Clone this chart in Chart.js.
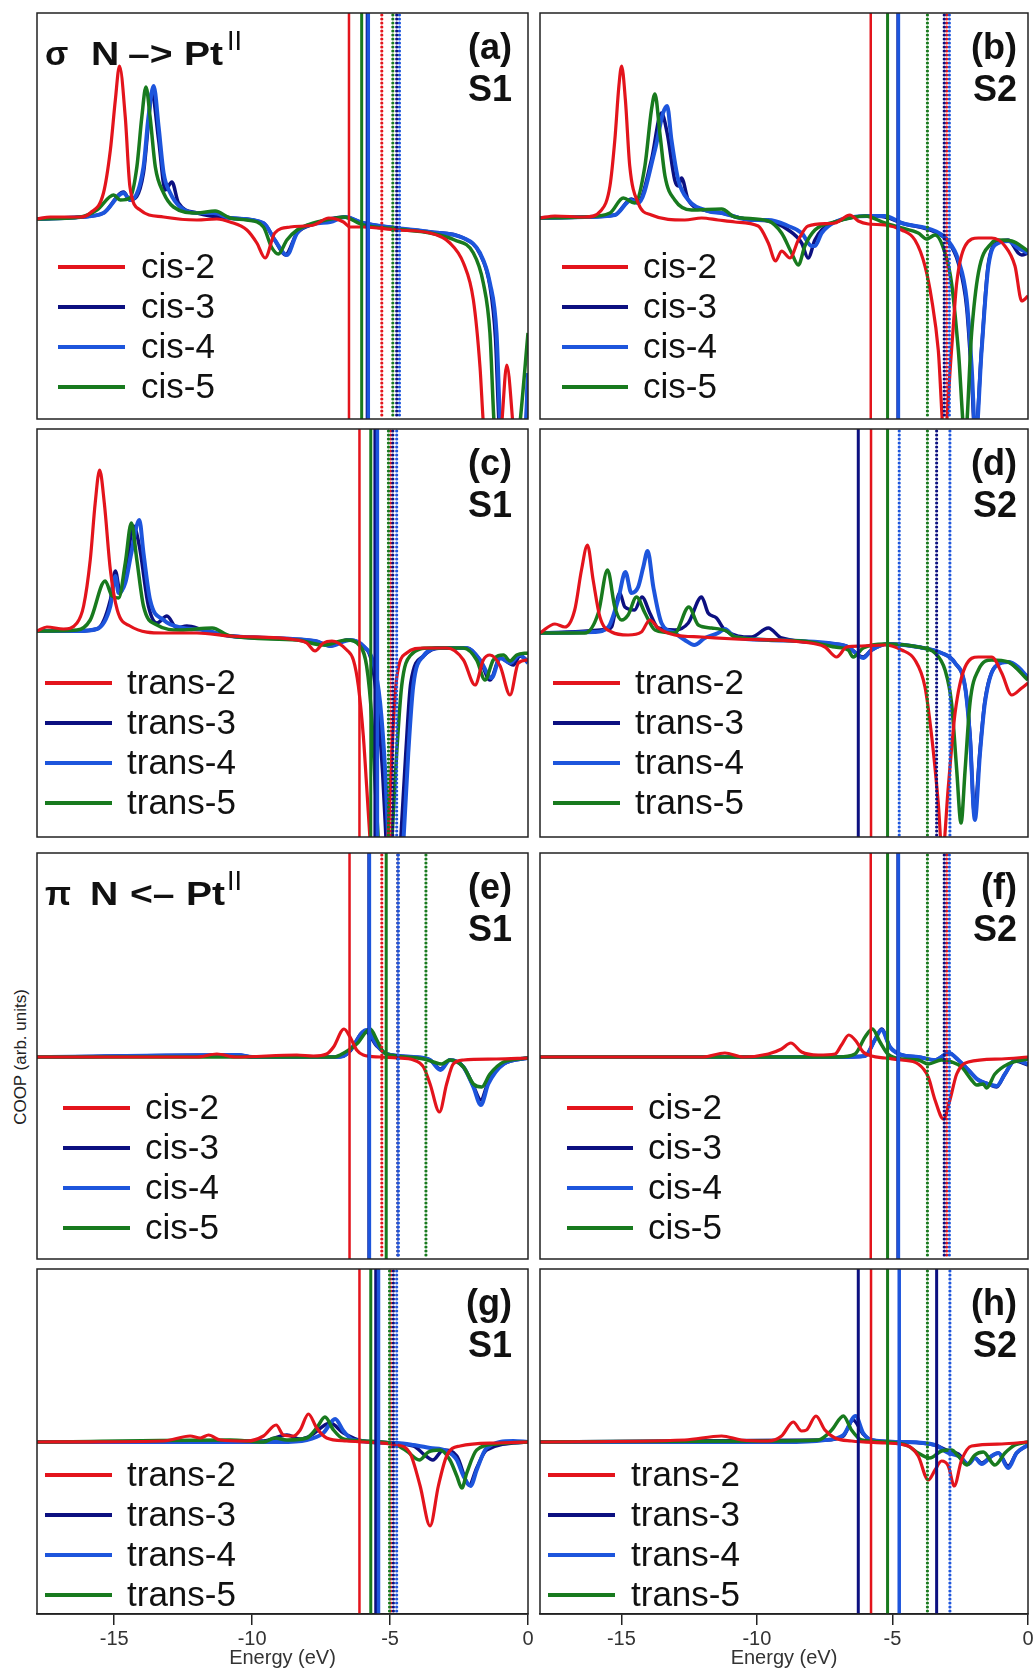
<!DOCTYPE html>
<html>
<head>
<meta charset="utf-8">
<title>COOP N–Pt</title>
<script src="https://cdn.jsdelivr.net/npm/chart.js@4.4.1/dist/chart.umd.min.js"></script>
<style>
    body { margin: 0; background: #fff; }
    #fig { position: relative; width: 1033px; height: 1670px; overflow: hidden; background: #fff; }
    #fig canvas { position: absolute; }
    #ylab {
        position: absolute; left: 21px; top: 1057px;
        transform: translate(-50%, -50%) rotate(-90deg);
        white-space: nowrap; font: 17px 'Liberation Sans', Arial, sans-serif; color: #222;
    }
</style>
</head>
<body>
<div id="fig"><div id="ylab">COOP (arb. units)</div></div>
<script>
// Подписи серий и оси
const cisNames = ['cis-2', 'cis-3', 'cis-4', 'cis-5'];
const transNames = ['trans-2', 'trans-3', 'trans-4', 'trans-5'];
const energyTicks = [-15, -10, -5, 0];

// (a) sigma, cis, S1 : [энергия, COOP]
const aCis2 = [[-17.8,-0.01],[-17.32,0.01],[-16.23,0.01],[-15.87,0.05],[-15.39,0.25],[-15.14,0.68],[-14.96,1.18],[-14.81,1.52],[-14.6,1.01],[-14.43,0.31],[-14.06,0.08],[-13.21,0.01],[-12.0,-0.02],[-11.28,-0.01],[-10.8,-0.04],[-10.19,-0.12],[-9.83,-0.25],[-9.53,-0.4],[-9.18,-0.15],[-8.62,-0.09],[-7.77,-0.07],[-7.22,0.0],[-6.69,-0.04],[-6.45,-0.09],[-5.97,-0.09],[-4.78,-0.12],[-3.55,-0.15],[-2.83,-0.25],[-2.34,-0.45],[-1.98,-0.82],[-1.74,-1.49],[-1.62,-2.05],[-1.3,-3.0],[-0.95,-2.05],[-0.77,-1.47],[-0.55,-2.05],[-0.3,-3.0],[0,-3.2]];
const aCis3 = [[-17.8,-0.01],[-16.23,0.01],[-15.39,0.05],[-14.66,0.26],[-14.43,0.18],[-13.94,0.45],[-13.76,0.95],[-13.64,1.26],[-13.39,0.78],[-13.15,0.28],[-12.91,0.36],[-12.67,0.15],[-12.0,0.05],[-10.8,0.0],[-9.59,-0.05],[-9.18,-0.22],[-8.8,-0.37],[-8.37,-0.15],[-7.77,-0.06],[-6.63,0.01],[-5.97,-0.05],[-4.78,-0.1],[-3.55,-0.14],[-2.34,-0.2],[-1.74,-0.36],[-1.38,-0.68],[-1.18,-1.2],[-1.05,-2.05],[-0.6,-3.2],[-0.15,-2.6],[0,-1.55]];
const aCis4 = [[-17.8,-0.01],[-16.23,0.01],[-15.39,0.05],[-14.66,0.25],[-14.43,0.18],[-13.94,0.51],[-13.76,1.01],[-13.57,1.32],[-13.39,0.91],[-13.21,0.45],[-12.97,0.25],[-12.61,0.11],[-12.0,0.05],[-11.4,0.05],[-10.8,0.0],[-9.59,-0.05],[-9.18,-0.22],[-8.74,-0.37],[-8.37,-0.15],[-7.77,-0.06],[-7.17,-0.04],[-6.63,0.01],[-5.97,-0.05],[-4.78,-0.1],[-3.55,-0.14],[-2.34,-0.2],[-1.74,-0.35],[-1.38,-0.65],[-1.14,-1.15],[-1.01,-2.05],[-0.6,-3.2],[-0.15,-2.5],[0,-1.55]];
const aCis5 = [[-17.8,-0.01],[-16.23,0.01],[-15.63,0.08],[-15.02,0.23],[-14.78,0.18],[-14.43,0.2],[-14.18,0.51],[-14.0,1.01],[-13.85,1.31],[-13.7,1.01],[-13.51,0.51],[-13.21,0.25],[-12.85,0.11],[-12.0,0.05],[-11.34,0.07],[-10.8,0.0],[-10.19,-0.02],[-9.59,-0.09],[-9.3,-0.29],[-9.05,-0.36],[-8.74,-0.22],[-8.37,-0.12],[-7.77,-0.05],[-6.93,0.0],[-6.69,0.01],[-5.97,-0.07],[-4.78,-0.11],[-3.55,-0.15],[-2.66,-0.22],[-1.98,-0.35],[-1.62,-0.65],[-1.38,-1.15],[-1.23,-2.05],[-0.8,-3.2],[-0.29,-2.05],[0,-1.15]];
const aSolid = [[-6.49], [-5.83], [-5.79], [-6.03]];
const aDotted = [[-5.30], [-4.76], [-4.66], [-4.90]];

// (b) sigma, cis, S2
const bCis2 = [[-18.0,0],[-17.45,0.02],[-16.35,0.01],[-15.73,0.08],[-15.42,0.32],[-15.24,0.78],[-15.09,1.32],[-14.99,1.52],[-14.85,1.18],[-14.69,0.52],[-14.38,0.15],[-13.89,0.03],[-12.66,-0.02],[-12.04,0.0],[-11.43,-0.02],[-10.81,-0.04],[-9.95,-0.08],[-9.58,-0.25],[-9.31,-0.43],[-9.09,-0.33],[-8.78,-0.4],[-8.47,-0.22],[-8.11,-0.08],[-7.12,-0.05],[-6.57,0.03],[-6.26,-0.03],[-5.89,-0.06],[-5.28,-0.07],[-4.66,-0.12],[-4.17,-0.22],[-3.8,-0.48],[-3.55,-0.82],[-3.31,-1.32],[-3.09,-2.2],[-2.82,-1.32],[-2.63,-0.65],[-2.32,-0.28],[-1.83,-0.2],[-1.34,-0.2],[-0.85,-0.28],[-0.48,-0.48],[-0.23,-0.83],[0,-0.78]];
const bCis3 = [[-18.0,0],[-16.35,0.01],[-15.24,0.03],[-14.63,0.19],[-14.38,0.16],[-13.89,0.58],[-13.52,1.05],[-13.31,0.85],[-13.03,0.38],[-12.9,0.32],[-12.78,0.4],[-12.53,0.18],[-11.8,0.07],[-11.3,0.05],[-10.2,-0.02],[-9.58,-0.03],[-8.84,-0.12],[-8.35,-0.25],[-8.11,-0.4],[-7.86,-0.22],[-7.61,-0.12],[-7.12,-0.04],[-5.89,0.02],[-5.28,0.01],[-4.66,-0.05],[-3.43,-0.14],[-2.94,-0.24],[-2.57,-0.45],[-2.26,-0.9],[-2.08,-1.6],[-1.95,-2.2],[-1.71,-1.3],[-1.46,-0.45],[-1.09,-0.24],[-0.73,-0.22],[-0.36,-0.35],[-0.23,-0.37],[0,-0.35]];
const bCis4 = [[-18.0,0],[-16.35,0.01],[-15.24,0.03],[-14.63,0.18],[-14.38,0.15],[-13.76,0.68],[-13.46,1.05],[-13.31,1.12],[-13.15,0.78],[-12.9,0.38],[-12.53,0.18],[-11.8,0.07],[-11.3,0.05],[-10.2,-0.02],[-9.58,-0.02],[-8.84,-0.08],[-8.35,-0.15],[-7.98,-0.28],[-7.86,-0.28],[-7.61,-0.15],[-7.12,-0.04],[-5.89,0.02],[-5.28,0.02],[-4.66,-0.05],[-3.43,-0.13],[-2.94,-0.23],[-2.57,-0.42],[-2.26,-0.82],[-2.08,-1.48],[-1.93,-2.2],[-1.71,-1.32],[-1.46,-0.48],[-1.09,-0.25],[-0.73,-0.23],[-0.36,-0.3],[0,-0.35]];
const bCis5 = [[-18.0,0],[-16.35,0.01],[-15.42,0.05],[-14.93,0.2],[-14.51,0.15],[-14.13,0.52],[-13.89,1.08],[-13.76,1.24],[-13.58,0.85],[-13.39,0.42],[-13.03,0.18],[-12.41,0.08],[-11.3,0.09],[-10.81,0.01],[-9.58,-0.03],[-9.09,-0.15],[-8.72,-0.35],[-8.47,-0.47],[-8.23,-0.28],[-7.86,-0.12],[-7.12,-0.04],[-6.01,0.02],[-5.28,-0.05],[-4.66,-0.1],[-4.05,-0.15],[-3.74,-0.21],[-3.43,-0.17],[-3.06,-0.35],[-2.82,-0.65],[-2.57,-1.32],[-2.32,-2.2],[-2.08,-1.15],[-1.83,-0.55],[-1.34,-0.25],[-1.09,-0.22],[-0.6,-0.23],[0,-0.33]];
const bSolid = [[-5.80], [-4.80], [-4.78], [-5.18]];
const bDotted = [[-3.00], [-3.09], [-2.90], [-3.71]];

// (c) sigma, trans, S1
const cTrans2 = [[-17.8,0.02],[-17.44,0.06],[-16.84,0.04],[-16.35,0.1],[-16.11,0.27],[-15.87,0.73],[-15.69,1.3],[-15.53,1.63],[-15.36,1.3],[-15.14,0.63],[-14.89,0.23],[-14.43,0.07],[-13.21,0.0],[-12.0,0.0],[-10.8,-0.03],[-8.38,-0.07],[-8.02,-0.1],[-7.72,-0.18],[-7.42,-0.1],[-7.11,-0.08],[-6.57,-0.17],[-6.33,-0.27],[-6.15,-0.53],[-5.97,-1.03],[-5.85,-1.53],[-5.72,-2.1],[-5.36,-3.5],[-5.0,-1.6],[-4.88,-0.9],[-4.76,-0.45],[-4.4,-0.2],[-3.79,-0.15],[-2.95,-0.15],[-2.34,-0.27],[-1.92,-0.52],[-1.62,-0.27],[-1.38,-0.22],[-1.01,-0.33],[-0.65,-0.62],[-0.35,-0.3],[0,-0.27]];
const cTrans3 = [[-17.8,0.02],[-16.35,0.02],[-15.63,0.04],[-15.14,0.33],[-14.96,0.62],[-14.78,0.4],[-14.6,0.57],[-14.3,1.07],[-14.09,0.87],[-13.76,0.27],[-13.45,0.1],[-13.09,0.17],[-12.73,0.05],[-12.37,0.07],[-11.76,0.03],[-10.8,-0.03],[-7.72,-0.08],[-7.17,-0.13],[-6.57,-0.07],[-5.97,-0.13],[-5.66,-0.3],[-5.45,-0.75],[-5.27,-1.4],[-5.14,-2.1],[-4.92,-3.3],[-4.62,-2.1],[-4.43,-1.2],[-4.25,-0.5],[-3.79,-0.23],[-3.19,-0.15],[-2.22,-0.15],[-1.74,-0.27],[-1.38,-0.47],[-1.01,-0.25],[-0.53,-0.32],[-0.29,-0.23],[0,-0.28]];
const cTrans4 = [[-17.8,0.02],[-16.35,0.02],[-15.63,0.04],[-15.14,0.27],[-14.96,0.57],[-14.84,0.4],[-14.6,0.5],[-14.38,0.8],[-14.09,1.13],[-13.94,0.8],[-13.7,0.33],[-13.21,0.13],[-12.49,0.05],[-11.76,0.03],[-10.8,-0.03],[-7.72,-0.08],[-7.17,-0.13],[-6.45,-0.07],[-5.97,-0.13],[-5.6,-0.3],[-5.36,-0.7],[-5.18,-1.37],[-5.06,-2.1],[-4.85,-3.3],[-4.52,-2.1],[-4.34,-1.2],[-4.16,-0.53],[-3.79,-0.23],[-3.19,-0.15],[-2.22,-0.15],[-1.74,-0.27],[-1.32,-0.45],[-1.01,-0.25],[-0.65,-0.3],[-0.29,-0.22],[0,-0.3]];
const cTrans5 = [[-17.8,0.02],[-16.35,0.03],[-15.87,0.13],[-15.33,0.52],[-15.08,0.37],[-14.84,0.35],[-14.6,0.7],[-14.38,1.1],[-14.18,0.73],[-13.94,0.27],[-13.45,0.08],[-12.61,0.03],[-11.45,0.05],[-10.8,-0.03],[-8.38,-0.07],[-7.42,-0.12],[-6.57,-0.07],[-6.09,-0.13],[-5.85,-0.33],[-5.66,-0.87],[-5.54,-1.53],[-5.42,-2.1],[-5.2,-3.3],[-4.94,-2.1],[-4.76,-1.2],[-4.58,-0.53],[-4.28,-0.23],[-3.55,-0.15],[-2.34,-0.15],[-1.86,-0.27],[-1.56,-0.47],[-1.26,-0.27],[-0.89,-0.22],[-0.65,-0.28],[-0.41,-0.22],[0,-0.2]];
const cSolid = [[-6.11], [-5.55], [-5.46], [-5.70]];
const cDotted = [[-4.98], [-4.90], [-4.76], [-5.06]];

// (d) sigma, trans, S2
const dTrans2 = [[-18.0,0.02],[-17.45,0.11],[-17.08,0.08],[-16.72,0.25],[-16.47,0.65],[-16.25,0.9],[-16.04,0.55],[-15.79,0.18],[-15.36,0.03],[-14.75,0.0],[-14.26,0.03],[-13.95,0.15],[-13.64,0.07],[-13.03,0.0],[-12.04,-0.02],[-10.81,-0.04],[-8.35,-0.07],[-7.49,-0.12],[-7.06,-0.22],[-6.69,-0.12],[-6.14,-0.11],[-5.28,-0.1],[-4.66,-0.15],[-4.17,-0.25],[-3.8,-0.52],[-3.55,-1.02],[-3.31,-1.68],[-3.16,-2.2],[-2.94,-1.52],[-2.69,-0.78],[-2.32,-0.32],[-1.83,-0.22],[-1.34,-0.22],[-0.97,-0.38],[-0.6,-0.6],[-0.23,-0.53],[0,-0.48]];
const dTrans3 = [[-18.0,0.02],[-15.48,0.06],[-15.36,0.08],[-15.06,0.42],[-14.87,0.28],[-14.51,0.25],[-14.24,0.38],[-13.95,0.22],[-13.64,0.07],[-13.03,0.05],[-12.53,0.12],[-12.04,0.38],[-11.8,0.22],[-11.49,0.17],[-11.18,0.05],[-10.2,-0.02],[-9.58,0.07],[-9.09,-0.03],[-7.12,-0.09],[-6.63,-0.12],[-6.08,-0.22],[-5.77,-0.15],[-5.17,-0.09],[-4.05,-0.12],[-3.19,-0.18],[-2.69,-0.28],[-2.32,-0.52],[-2.14,-1.0],[-1.98,-1.78],[-1.77,-1.15],[-1.59,-0.66],[-1.22,-0.32],[-0.73,-0.27],[-0.36,-0.34],[0,-0.42]];
const dTrans4 = [[-18.0,0.02],[-15.98,0.03],[-15.48,0.08],[-15.12,0.35],[-14.85,0.63],[-14.63,0.42],[-14.38,0.48],[-14.19,0.68],[-14.03,0.84],[-13.82,0.48],[-13.52,0.12],[-13.03,0.02],[-12.66,-0.05],[-12.31,-0.1],[-11.92,-0.03],[-11.43,0.02],[-11.18,0.06],[-10.81,-0.02],[-9.58,-0.05],[-7.12,-0.09],[-6.63,-0.12],[-6.08,-0.23],[-5.77,-0.15],[-5.17,-0.09],[-4.05,-0.12],[-3.19,-0.18],[-2.69,-0.28],[-2.32,-0.52],[-2.14,-1.02],[-1.96,-1.85],[-1.77,-1.18],[-1.59,-0.68],[-1.22,-0.32],[-0.73,-0.27],[-0.36,-0.32],[0,-0.43]];
const dTrans5 = [[-18.0,0.02],[-16.35,0.02],[-15.85,0.22],[-15.51,0.65],[-15.24,0.28],[-14.99,0.15],[-14.75,0.2],[-14.44,0.38],[-14.13,0.22],[-13.76,0.05],[-13.03,0.02],[-12.51,0.28],[-12.16,0.1],[-11.67,0.07],[-11.12,0.04],[-10.81,-0.02],[-8.35,-0.06],[-7.12,-0.12],[-6.63,-0.15],[-6.45,-0.22],[-6.08,-0.13],[-5.28,-0.09],[-4.05,-0.12],[-3.43,-0.18],[-3.06,-0.35],[-2.82,-0.68],[-2.63,-1.35],[-2.47,-1.88],[-2.32,-1.35],[-2.14,-0.68],[-1.83,-0.35],[-1.34,-0.25],[-0.73,-0.27],[0,-0.45]];
const dSolid = [[-5.79], [-6.26], [], [-5.18]];
const dDotted = [[], [-3.37], [-4.75, -2.88], [-3.71]];

// (e) pi, cis, S1
const eCis2 = [[-17.8,0],[-12.0,0],[-11.28,0.03],[-10.6,0],[-8.38,0.02],[-7.78,0.01],[-7.3,0.03],[-7.05,0.1],[-6.67,0.28],[-6.45,0.2],[-6.21,0.07],[-5.97,0.02],[-5.36,0],[-4.76,-0.01],[-4.15,-0.03],[-3.79,-0.1],[-3.55,-0.27],[-3.21,-0.55],[-2.95,-0.27],[-2.71,-0.07],[-2.34,-0.03],[-1.14,-0.02],[0,-0.01]];
const eCis3 = [[-17.8,0],[-10.5,0.02],[-10.0,0],[-7.0,0],[-6.69,0.01],[-6.45,0.06],[-5.91,0.26],[-5.48,0.11],[-5.12,0.03],[-4.15,0],[-3.55,-0.03],[-3.17,-0.12],[-2.83,-0.03],[-2.34,-0.1],[-1.98,-0.29],[-1.71,-0.43],[-1.44,-0.25],[-0.89,-0.07],[0,-0.01]];
const eCis4 = [[-17.8,0],[-10.5,0.02],[-10.0,0],[-7.0,0],[-6.69,0.01],[-6.45,0.07],[-5.85,0.27],[-5.48,0.12],[-5.12,0.03],[-4.15,0],[-3.55,-0.03],[-3.17,-0.13],[-2.83,-0.03],[-2.34,-0.1],[-1.98,-0.3],[-1.71,-0.48],[-1.44,-0.27],[-0.89,-0.07],[0,-0.01]];
const eCis5 = [[-17.8,0],[-7.0,0],[-6.81,0.02],[-6.21,0.13],[-5.72,0.28],[-5.48,0.17],[-5.24,0.05],[-4.76,0.01],[-3.79,-0.02],[-3.43,-0.05],[-3.13,-0.07],[-2.83,-0.03],[-2.34,-0.1],[-1.98,-0.27],[-1.68,-0.3],[-1.38,-0.17],[-0.89,-0.05],[0,-0.01]];
const eSolid = [[-6.47], [-5.77], [-5.75], [-5.14]];
const eDotted = [[-5.30], [-4.72], [-4.70], [-3.70]];

// (f) pi, cis, S2
const fCis2 = [[-18.0,0],[-12.0,0],[-11.18,0.04],[-10.5,0.0],[-9.58,0.03],[-9.09,0.08],[-8.75,0.14],[-8.35,0.05],[-7.74,0.02],[-7.12,0.03],[-6.88,0.12],[-6.61,0.22],[-6.32,0.15],[-6.08,0.05],[-5.77,0.01],[-5.28,-0.01],[-4.66,-0.03],[-4.05,-0.07],[-3.68,-0.2],[-3.43,-0.43],[-3.12,-0.62],[-2.88,-0.43],[-2.63,-0.17],[-2.2,-0.05],[-0.97,-0.02],[0,0]];
const fCis3 = [[-18.0,0],[-7.0,0],[-6.01,0.01],[-5.65,0.17],[-5.4,0.28],[-5.09,0.1],[-4.66,0.02],[-4.05,0],[-3.43,-0.03],[-2.92,0.04],[-2.57,-0.03],[-2.2,-0.13],[-1.83,-0.23],[-1.46,-0.27],[-1.16,-0.3],[-0.85,-0.17],[-0.48,-0.04],[0,-0.08]];
const fCis4 = [[-18.0,0],[-7.0,0],[-6.01,0.01],[-5.65,0.17],[-5.4,0.27],[-5.09,0.1],[-4.66,0.02],[-4.05,0],[-3.43,-0.03],[-2.92,0.04],[-2.57,-0.03],[-2.2,-0.13],[-1.83,-0.23],[-1.46,-0.27],[-1.16,-0.29],[-0.85,-0.17],[-0.48,-0.03],[0,-0.07]];
const fCis5 = [[-18.0,0],[-7.0,0],[-6.38,0.03],[-6.01,0.2],[-5.74,0.28],[-5.46,0.15],[-5.17,0.03],[-4.66,-0.02],[-4.05,-0.03],[-3.68,-0.07],[-3.19,-0.03],[-2.82,-0.05],[-2.45,-0.1],[-2.08,-0.23],[-1.89,-0.28],[-1.65,-0.27],[-1.53,-0.31],[-1.22,-0.17],[-0.73,-0.07],[0,-0.02]];
const fSolid = [[-5.80], [-4.80], [-4.78], [-5.18]];
const fDotted = [[-3.00], [-3.09], [-2.90], [-3.71]];

// (g) pi, trans, S1
const gTrans2 = [[-17.8,0],[-13.21,0.01],[-12.25,0.06],[-11.88,0.04],[-11.58,0.07],[-11.16,0.02],[-10.19,0.01],[-9.59,0.06],[-9.13,0.17],[-8.87,0.07],[-8.5,0.06],[-8.26,0.12],[-7.96,0.28],[-7.66,0.14],[-7.3,0.04],[-6.57,0.01],[-5.97,0],[-4.76,-0.03],[-4.28,-0.11],[-3.91,-0.44],[-3.55,-0.84],[-3.25,-0.44],[-2.95,-0.14],[-2.46,-0.04],[-1.14,-0.01],[0,0]];
const gTrans3 = [[-17.8,0],[-9.59,0.01],[-8.74,0.07],[-8.26,0.03],[-7.9,0.06],[-7.17,0.19],[-6.69,0.09],[-5.97,0.01],[-4.15,-0.04],[-3.75,-0.13],[-3.45,-0.18],[-3.07,-0.08],[-2.58,-0.14],[-2.13,-0.43],[-1.86,-0.26],[-1.5,-0.08],[0,0]];
const gTrans4 = [[-17.8,0],[-9.0,0],[-8.02,0.02],[-7.42,0.09],[-6.99,0.23],[-6.69,0.11],[-6.33,0.02],[-4.76,-0.01],[-4.15,-0.03],[-3.55,-0.06],[-2.95,-0.09],[-2.58,-0.18],[-2.34,-0.34],[-2.08,-0.44],[-1.86,-0.28],[-1.5,-0.06],[-0.53,0.01],[0,0]];
const gTrans5 = [[-17.8,0],[-10.8,0.02],[-9.59,0],[-9.18,0.04],[-8.74,0.02],[-8.02,0.04],[-7.66,0.14],[-7.36,0.25],[-7.05,0.12],[-6.69,0.03],[-5.97,0.01],[-4.76,-0.03],[-4.4,-0.09],[-3.94,-0.18],[-3.61,-0.1],[-3.19,-0.08],[-2.83,-0.18],[-2.58,-0.34],[-2.4,-0.46],[-2.22,-0.31],[-1.86,-0.08],[-1.14,-0.02],[0,0]];
const gSolid = [[-6.11], [-5.52], [-5.42], [-5.70]];
const gDotted = [[-4.98], [-4.88], [-4.76], [-5.02]];

// (h) pi, trans, S2
const hTrans2 = [[-18.0,0],[-12.66,0.02],[-11.3,0.06],[-10.57,0.02],[-9.58,0.01],[-9.09,0.06],[-8.66,0.2],[-8.35,0.11],[-8.17,0.12],[-7.82,0.26],[-7.49,0.12],[-7.12,0.04],[-6.51,0.01],[-5.28,-0.01],[-4.42,-0.04],[-4.05,-0.14],[-3.68,-0.38],[-3.43,-0.28],[-3.19,-0.19],[-2.94,-0.24],[-2.72,-0.44],[-2.45,-0.18],[-2.08,-0.04],[-0.97,-0.02],[0,0]];
const hTrans3 = [[-18.0,0],[-7.49,0.02],[-6.81,0.06],[-6.45,0.22],[-6.08,0.08],[-5.77,0.02],[-4.66,0],[-3.43,-0.03],[-2.94,-0.09],[-2.57,-0.12],[-2.2,-0.22],[-1.96,-0.16],[-1.71,-0.21],[-1.34,-0.14],[-1.09,-0.11],[-0.73,-0.24],[-0.42,-0.11],[0,-0.03]];
const hTrans4 = [[-18.0,0],[-9.0,0],[-7.49,0.02],[-6.81,0.07],[-6.36,0.26],[-6.08,0.09],[-5.77,0.02],[-4.66,0],[-3.43,-0.03],[-2.94,-0.11],[-2.57,-0.14],[-2.2,-0.22],[-1.96,-0.16],[-1.71,-0.22],[-1.34,-0.14],[-1.09,-0.11],[-0.73,-0.26],[-0.42,-0.11],[0,-0.03]];
const hTrans5 = [[-18.0,0],[-9.58,0.01],[-7.74,0.02],[-7.24,0.12],[-6.81,0.26],[-6.51,0.12],[-6.14,0.02],[-5.28,0],[-4.42,-0.04],[-4.05,-0.11],[-3.62,-0.16],[-3.19,-0.09],[-2.82,-0.08],[-2.57,-0.14],[-2.26,-0.23],[-1.96,-0.13],[-1.65,-0.1],[-1.22,-0.23],[-0.85,-0.11],[-0.48,-0.03],[0,0]];
const hSolid = [[-5.79], [-6.26, -3.37], [-4.75], [-5.18]];
const hDotted = [[], [], [-2.88], [-3.71]];

// Стили серий: cis/trans-2 красный, -3 тёмно-синий, -4 синий, -5 зелёный
const seriesColors = ['#e3141c', '#0c1080', '#1d55dc', '#187a1e'];
const curveWidths = [3.2, 3.5, 4, 3.5];
const levelWidths = [2.5, 3, 3.5, 3];
const drawOrder = [1, 4, 3, 2];
const FONT = "'Liberation Sans', Arial, sans-serif";

// Геометрия сетки панелей
const colLeft = [37, 540];
const colWidth = [491, 488];
const colXMin = [-17.8, -18.0];
const tagRight = [16, 11];
const rowTop = [13, 429, 853, 1269];
const rowHeight = [406, 408, 406, 345];

const sigmaTitle = { parts: [['σ', 8, 1], ['N', 54, 1.15], ['–>', 91, 1.15], ['Pt', 147, 1.15]], sup: ['II', 190] };
const piTitle = { parts: [['π', 8, 1], ['N', 53, 1.15], ['<–', 93, 1.15], ['Pt', 149, 1.15]], sup: ['II', 190] };

const panels = [
    { tag: '(a)', sys: 'S1', row: 0, col: 0, yMin: -2.01, yMax: 2.05, names: cisNames, curves: [aCis2, aCis3, aCis4, aCis5], solid: aSolid, dotted: aDotted, legend: { x0: 21, x1: 88, tx: 104, y0: 254 }, title: sigmaTitle },
    { tag: '(b)', sys: 'S2', row: 0, col: 1, yMin: -2.01, yMax: 2.05, names: cisNames, curves: [bCis2, bCis3, bCis4, bCis5], solid: bSolid, dotted: bDotted, legend: { x0: 22, x1: 88, tx: 103, y0: 254 } },
    { tag: '(c)', sys: 'S1', row: 1, col: 0, yMin: -2.04, yMax: 2.04, names: transNames, curves: [cTrans2, cTrans3, cTrans4, cTrans5], solid: cSolid, dotted: cDotted, legend: { x0: 8, x1: 75, tx: 90, y0: 254 } },
    { tag: '(d)', sys: 'S2', row: 1, col: 1, yMin: -2.02, yMax: 2.06, names: transNames, curves: [dTrans2, dTrans3, dTrans4, dTrans5], solid: dSolid, dotted: dDotted, legend: { x0: 13, x1: 80, tx: 95, y0: 254 } },
    { tag: '(e)', sys: 'S1', row: 2, col: 0, yMin: -2.02, yMax: 2.04, names: cisNames, curves: [eCis2, eCis3, eCis4, eCis5], solid: eSolid, dotted: eDotted, legend: { x0: 26, x1: 93, tx: 108, y0: 255 }, title: piTitle },
    { tag: '(f)', sys: 'S2', row: 2, col: 1, yMin: -2.02, yMax: 2.04, names: cisNames, curves: [fCis2, fCis3, fCis4, fCis5], solid: fSolid, dotted: fDotted, legend: { x0: 27, x1: 93, tx: 108, y0: 255 } },
    { tag: '(g)', sys: 'S1', row: 3, col: 0, yMin: -1.72, yMax: 1.73, names: transNames, curves: [gTrans2, gTrans3, gTrans4, gTrans5], solid: gSolid, dotted: gDotted, legend: { x0: 8, x1: 75, tx: 90, y0: 206 } },
    { tag: '(h)', sys: 'S2', row: 3, col: 1, yMin: -1.72, yMax: 1.73, names: transNames, curves: [hTrans2, hTrans3, hTrans4, hTrans5], solid: hSolid, dotted: hDotted, legend: { x0: 8, x1: 75, tx: 91, y0: 206 } }
];

// Плагин: уровни, рамка, легенда, подписи панели
function panelDecor(p) {
    return {
        id: 'panelDecor',
        afterDatasetsDraw(chart) {
            const { ctx, chartArea: area, scales: { x } } = chart;
            ctx.save();
            ctx.beginPath();
            ctx.rect(area.left, area.top, area.width, area.height);
            ctx.clip();
            // сплошные линии уровней
            p.solid.forEach((list, i) => list.forEach(e => {
                const px = x.getPixelForValue(e);
                ctx.strokeStyle = seriesColors[i];
                ctx.lineWidth = levelWidths[i];
                ctx.setLineDash([]);
                ctx.lineCap = 'butt';
                ctx.beginPath();
                ctx.moveTo(px, area.top);
                ctx.lineTo(px, area.bottom);
                ctx.stroke();
            }));
            // пунктирные линии уровней
            p.dotted.forEach((list, i) => list.forEach(e => {
                const px = x.getPixelForValue(e);
                ctx.strokeStyle = seriesColors[i];
                ctx.lineWidth = 3.2;
                ctx.setLineDash([0, 4]);
                ctx.lineCap = 'round';
                ctx.beginPath();
                ctx.moveTo(px, area.top + 2);
                ctx.lineTo(px, area.bottom);
                ctx.stroke();
            }));
            ctx.restore();
        },
        afterDraw(chart) {
            const { ctx, chartArea: area } = chart;
            ctx.save();
            ctx.setLineDash([]);
            ctx.strokeStyle = '#222';
            ctx.lineWidth = 1.5;
            ctx.strokeRect(area.left, area.top, area.width, area.height);

            // легенда внутри панели
            const lg = p.legend;
            ctx.font = '35px ' + FONT;
            ctx.textAlign = 'left';
            ctx.textBaseline = 'alphabetic';
            chart.data.datasets.forEach((ds, i) => {
                const y = area.top + lg.y0 + i * 40;
                ctx.strokeStyle = ds.borderColor;
                ctx.lineWidth = 4;
                ctx.lineCap = 'butt';
                ctx.beginPath();
                ctx.moveTo(area.left + lg.x0, y);
                ctx.lineTo(area.left + lg.x1, y);
                ctx.stroke();
                ctx.fillStyle = '#111';
                ctx.fillText(ds.label, area.left + lg.tx, y + 11);
            });

            // метки (a) / S1
            ctx.font = 'bold 36px ' + FONT;
            ctx.textAlign = 'right';
            ctx.fillStyle = '#111';
            const rx = area.right - tagRight[p.col];
            ctx.fillText(p.tag, rx, area.top + 46);
            ctx.fillText(p.sys, rx, area.top + 88);

            // заголовок σ / π
            if (p.title) {
                ctx.textAlign = 'left';
                ctx.font = 'bold 34px ' + FONT;
                p.title.parts.forEach(([txt, dx, sx]) => {
                    ctx.save();
                    ctx.translate(area.left + dx, area.top + 52);
                    ctx.scale(sx, 1);
                    ctx.fillText(txt, 0, 0);
                    ctx.restore();
                });
                ctx.font = '27px ' + FONT;
                ctx.fillText(p.title.sup[0], area.left + p.title.sup[1], area.top + 37);
            }
            ctx.restore();
        }
    };
}

// Функция для создания одной панели
function createPanel(p) {
    const fig = document.getElementById('fig');
    const isBottom = p.row === 3;
    const w = colWidth[p.col];
    const h = rowHeight[p.row];
    const canvas = document.createElement('canvas');
    canvas.width = w + 20;
    canvas.height = h + 2 + (isBottom ? 56 : 2);
    canvas.style.left = (colLeft[p.col] - 10) + 'px';
    canvas.style.top = (rowTop[p.row] - 2) + 'px';
    canvas.style.width = canvas.width + 'px';
    canvas.style.height = canvas.height + 'px';
    fig.appendChild(canvas);

    const datasets = p.curves.map((pts, i) => ({
        label: p.names[i],
        data: pts.map(([x, y]) => ({ x, y })),
        borderColor: seriesColors[i],
        borderWidth: curveWidths[i],
        pointRadius: 0,
        fill: false,
        cubicInterpolationMode: 'monotone',
        capBezierPoints: false,
        order: drawOrder[i],
        clip: 0
    }));

    const xScale = {
        type: 'linear',
        min: colXMin[p.col],
        max: 0,
        display: isBottom
    };
    if (isBottom) {
        Object.assign(xScale, {
            position: 'bottom',
            afterBuildTicks: s => { s.ticks = energyTicks.map(v => ({ value: v })); },
            afterFit: s => { s.height = 56; s.paddingLeft = 0; s.paddingRight = 0; },
            grid: { display: true, drawOnChartArea: false, drawTicks: true, tickLength: 11, color: '#222', lineWidth: 1.5 },
            border: { display: true, color: '#222', width: 1.5 },
            ticks: { font: { family: FONT, size: 20 }, color: '#333', padding: 2, maxRotation: 0, autoSkip: false },
            title: { display: true, text: 'Energy (eV)', font: { family: FONT, size: 20 }, color: '#333', padding: 0 }
        });
    }

    return new Chart(canvas, {
        type: 'line',
        data: { datasets: datasets },
        options: {
            responsive: false,
            animation: false,
            events: [],
            layout: { padding: { left: 10, right: 10, top: 2, bottom: isBottom ? 0 : 2 } },
            plugins: { legend: { display: false }, tooltip: { enabled: false } },
            scales: {
                x: xScale,
                y: { type: 'linear', min: p.yMin, max: p.yMax, display: false }
            }
        },
        plugins: [panelDecor(p)]
    });
}

Chart.defaults.font.family = FONT;
panels.forEach(createPanel);
</script>
</body>
</html>
